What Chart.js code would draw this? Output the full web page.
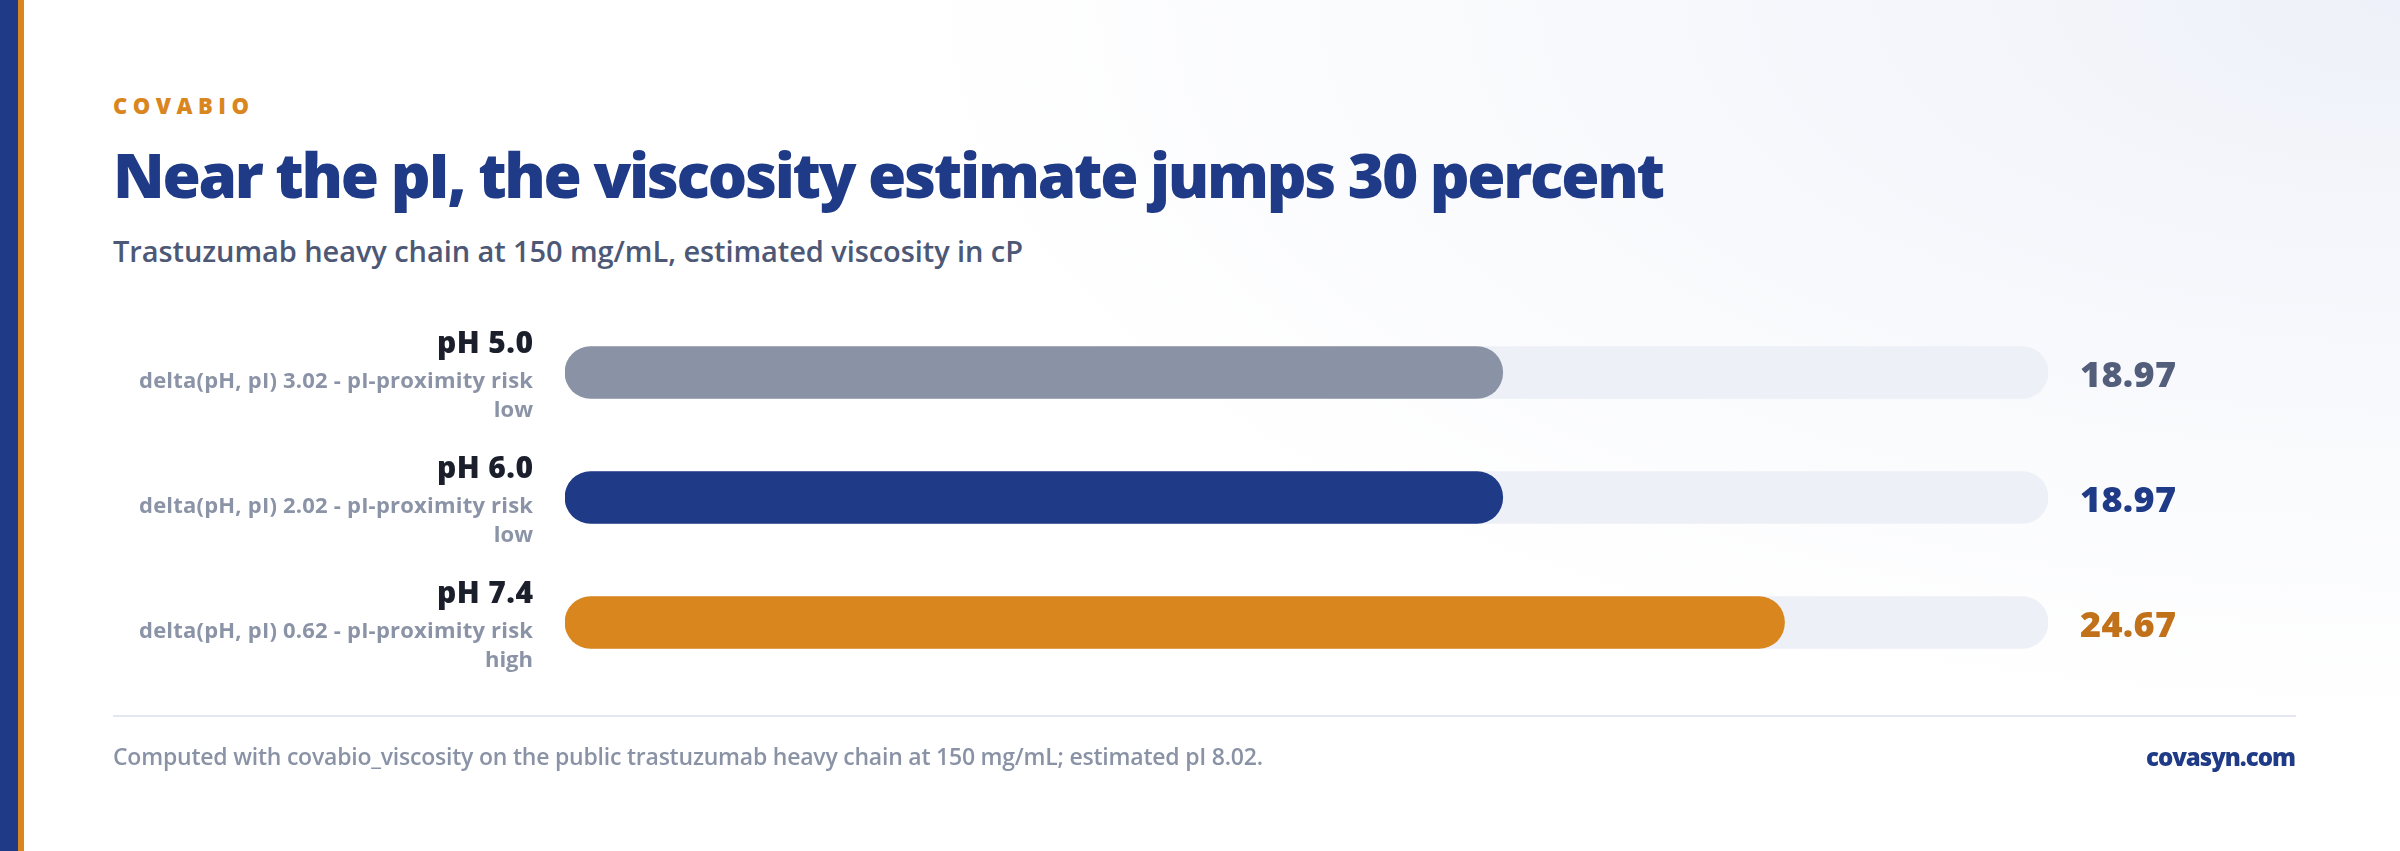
<!DOCTYPE html>
<html>
<head>
<meta charset="utf-8">
<script src="https://cdn.jsdelivr.net/npm/chart.js@4.4.1/dist/chart.umd.min.js"></script>
<style>
  html, body { margin: 0; padding: 0; }
  body {
    width: 2400px; height: 851px; position: relative; overflow: hidden;
    font-family: "Open Sans", Lato, sans-serif;
    background: radial-gradient(ellipse 1500px 720px at 100% 0%, #eef1f9 0%, #f7f8fc 45%, #ffffff 100%);
  }
  .stripe { position: absolute; top: 0; bottom: 0; }
  .txt { position: absolute; line-height: 1; white-space: nowrap; }
  #eyebrow { left: 113px; top: 94px; font-size: 22px; font-weight: 800; color: #d9861f; }
  #title { left: 113px; top: 143px; font-size: 62px; font-weight: 800; color: #1f3a86; }
  #subtitle { left: 113px; top: 236px; font-size: 29px; font-weight: 600; color: #4d5876; }
  #divider { position: absolute; left: 113px; width: 2183px; top: 715px; height: 2px; background: #e4e7f0; }
  #footnote { left: 113px; top: 745px; font-size: 23px; font-weight: 600; color: #8a93a6; }
  #brand { left: 2146px; top: 745px; font-size: 24px; font-weight: 800; color: #1f3a86; }
  #chart { position: absolute; left: 0; top: 0; }
</style>
</head>
<body>
<div class="stripe" style="left:0;width:18px;background:#1f3a86"></div>
<div class="stripe" style="left:18px;width:6px;background:#d9861f"></div>

<div class="txt" id="eyebrow">COVABIO</div>
<div class="txt" id="title">Near the pI, the viscosity estimate jumps 30 percent</div>
<div class="txt" id="subtitle">Trastuzumab heavy chain at 150 mg/mL, estimated viscosity in cP</div>

<canvas id="chart" width="2400" height="851"></canvas>

<div id="divider"></div>
<div class="txt" id="footnote">Computed with covabio_viscosity on the public trastuzumab heavy chain at 150 mg/mL; estimated pI 8.02.</div>
<div class="txt" id="brand">covasyn.com</div>

<script>
const categories = ["pH 5.0", "pH 6.0", "pH 7.4"];
const deltaLines = [
  "delta(pH, pI) 3.02 - pI-proximity risk",
  "delta(pH, pI) 2.02 - pI-proximity risk",
  "delta(pH, pI) 0.62 - pI-proximity risk"
];
const riskLevels = ["low", "low", "high"];
const viscosity = [18.97, 18.97, 24.67];
const trackValues = [30, 30, 30];
const axisMax = 30;

const barColors = ["#8a93a6", "#1f3a86", "#d9861f"];
const valueColors = ["#525e7a", "#1f3a86", "#c0711a"];
const labelFont = "'Open Sans', Lato, sans-serif";

// squeeze or stretch the html text so it fills the same width as the original
function fitWidth(id, target) {
  const el = document.getElementById(id);
  const n = el.textContent.length;
  const w = el.getBoundingClientRect().width;
  el.style.letterSpacing = ((target - w) / (n - 1)) + "px";
}

fitWidth("eyebrow", 136);
fitWidth("title", 1552);
fitWidth("subtitle", 910);
fitWidth("footnote", 1150);
fitWidth("brand", 150);

function fitCanvasText(ctx, text, target) {
  ctx.letterSpacing = "0px";
  const w = ctx.measureText(text).width;
  const s = (target - w) / (text.length - 1);
  ctx.letterSpacing = s + "px";
  return s;
}

// row labels on the left, values on the right of each track
const rowLabels = {
  id: "rowLabels",
  afterDatasetsDraw(chart) {
    const ctx = chart.ctx;
    const y = chart.scales.y;
    const x = chart.scales.x;
    ctx.save();
    categories.forEach((cat, i) => {
      const cy = y.getPixelForValue(i);
      ctx.textAlign = "right";
      ctx.textBaseline = "alphabetic";
      ctx.fillStyle = "#1b1f2b";
      ctx.font = "800 30px " + labelFont;
      let s = fitCanvasText(ctx, cat, 96);
      ctx.fillText(cat, 533 + s, cy - 20);
      ctx.fillStyle = "#8b93a7";
      ctx.font = "700 22px " + labelFont;
      s = fitCanvasText(ctx, deltaLines[i], 394);
      ctx.fillText(deltaLines[i], 533 + s, cy + 15);
      ctx.letterSpacing = "0px";
      ctx.fillText(riskLevels[i], 533, cy + 44);

      ctx.textAlign = "left";
      ctx.fillStyle = valueColors[i];
      ctx.font = "800 36px " + labelFont;
      fitCanvasText(ctx, viscosity[i].toFixed(2), 96);
      ctx.fillText(viscosity[i].toFixed(2), x.getPixelForValue(axisMax) + 32, cy + 14);
    });
    ctx.restore();
  }
};

new Chart(document.getElementById("chart"), {
  type: "bar",
  data: {
    labels: categories,
    datasets: [
      {
        data: viscosity,
        backgroundColor: barColors,
        borderRadius: 26,
        borderSkipped: false,
        barThickness: 52,
        grouped: false,
        order: 1
      },
      {
        data: trackValues,
        backgroundColor: "#edf0f7",
        borderRadius: 26,
        borderSkipped: false,
        barThickness: 52,
        grouped: false,
        order: 2
      }
    ]
  },
  options: {
    indexAxis: "y",
    responsive: false,
    animation: false,
    layout: { padding: { left: 565, right: 352, top: 310, bottom: 166 } },
    plugins: { legend: { display: false }, tooltip: { enabled: false } },
    scales: {
      x: { display: false, min: 0, max: axisMax },
      y: { display: false }
    }
  },
  plugins: [rowLabels]
});
</script>
</body>
</html>
